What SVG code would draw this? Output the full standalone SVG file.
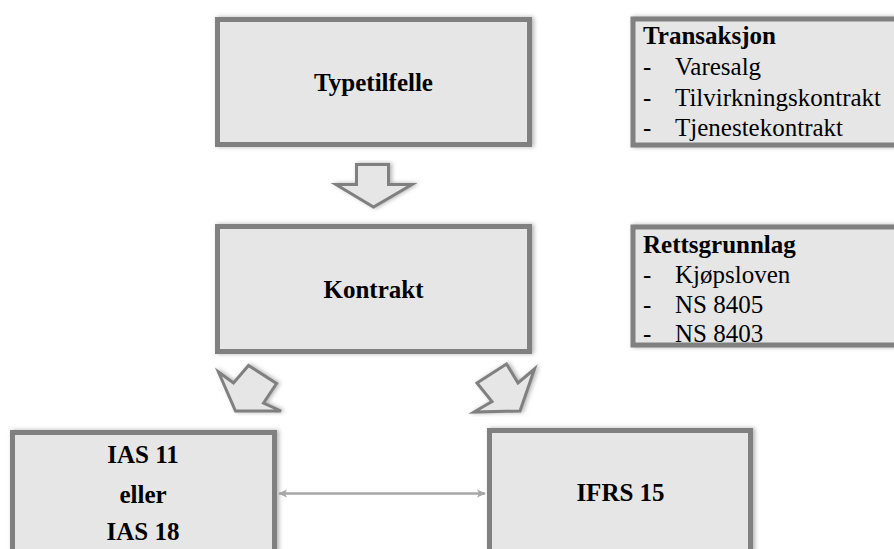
<svg xmlns="http://www.w3.org/2000/svg" width="894" height="549" viewBox="0 0 894 549">
<style>
.box{fill:#e6e6e6;stroke:#808080;stroke-width:5;filter:url(#sh)}
.arr{fill:#e6e6e6;stroke:#808080;stroke-width:3;stroke-linejoin:miter;filter:url(#sh)}
.t{font-size:25px;fill:#000}
.b{font-weight:bold}
.c{text-anchor:middle}
.conn{stroke:#a6a6a6;stroke-width:2.5;fill:none}
</style>
<defs>
<filter id="sh" x="-10%" y="-10%" width="120%" height="120%">
<feDropShadow dx="2" dy="0" stdDeviation="2" flood-color="#808080" flood-opacity="0.6"/>
</filter>
<marker id="ah" markerWidth="10" markerHeight="10" refX="8" refY="5" orient="auto-start-reverse" markerUnits="userSpaceOnUse">
<path d="M0,1 L9,5 L0,9 L2,5 Z" fill="#a6a6a6"/>
</marker>
</defs>
<g font-family="Liberation Serif">
<g id="typetilfelle">
<rect class="box" x="217.5" y="19.5" width="312" height="125"/>
<text class="t b c" x="373.5" y="91">Typetilfelle</text>
</g>
<g id="transaksjon">
<rect class="box" x="633" y="19" width="300" height="126"/>
<text class="t b" x="643" y="44">Transaksjon</text>
<text class="t" x="643" y="75">-</text><text class="t" x="675" y="75">Varesalg</text>
<text class="t" x="643" y="106">-</text><text class="t" x="675" y="106">Tilvirkningskontrakt</text>
<text class="t" x="643" y="136">-</text><text class="t" x="675" y="136">Tjenestekontrakt</text>
</g>
<g id="arrow-down">
<polygon class="arr" points="356.5,164.5 388.5,164.5 388.5,184.5 412,184.5 373.5,207 336,184.5 356.5,184.5"/>
</g>
<g id="kontrakt">
<rect class="box" x="217.5" y="226.5" width="312" height="125"/>
<text class="t b c" x="373.5" y="298">Kontrakt</text>
</g>
<g id="rettsgrunnlag">
<rect class="box" x="633" y="227" width="300" height="118"/>
<text class="t b" x="643" y="253">Rettsgrunnlag</text>
<text class="t" x="643" y="283">-</text><text class="t" x="675" y="283">Kjøpsloven</text>
<text class="t" x="643" y="313">-</text><text class="t" x="675" y="313">NS 8405</text>
<text class="t" x="643" y="342">-</text><text class="t" x="675" y="342">NS 8403</text>
</g>
<g id="arrow-left">
<polygon class="arr" points="218.5,372 233.5,383 248.5,365.5 276.5,383.5 263.5,403 281,411 235.5,411"/>
</g>
<g id="arrow-right">
<polygon class="arr" points="477,383 506.5,364 518,383 534.5,369 520,411 474,412 492,401.5"/>
</g>
<g id="ias">
<rect class="box" x="12.5" y="432.5" width="262" height="200"/>
<text class="t b c" x="143" y="463">IAS 11</text>
<text class="t b c" x="143" y="503">eller</text>
<text class="t b c" x="143" y="540">IAS 18</text>
</g>
<g id="ifrs">
<rect class="box" x="489.5" y="430.5" width="261" height="200"/>
<text class="t b c" x="620.5" y="501">IFRS 15</text>
</g>
<g id="connectors">
<line class="conn" x1="279" y1="493.5" x2="485" y2="493.5" marker-start="url(#ah)" marker-end="url(#ah)"/>
</g>
</g>
</svg>
